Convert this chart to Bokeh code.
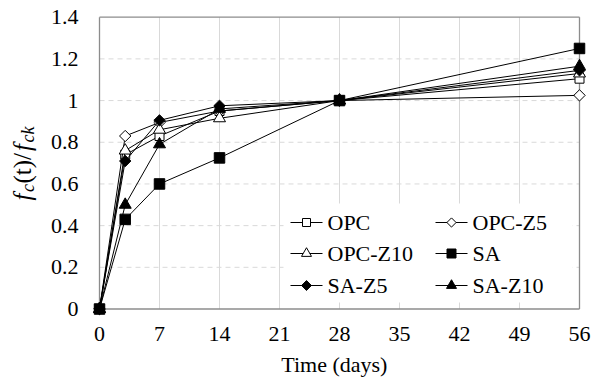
import math
from bokeh.plotting import figure
from bokeh.models import Range1d, Label
from bokeh.embed import file_html
from bokeh.resources import INLINE

# ---- data ----
days = [0, 3, 7, 14, 28, 56]
opc = [0, 0.74, 0.83, 0.95, 1.0, 1.105]
opc_z5 = [0, 0.83, 0.895, 0.95, 1.0, 1.025]
opc_z10 = [0, 0.76, 0.86, 0.915, 1.0, 1.13]
sa = [0, 0.43, 0.60, 0.725, 1.0, 1.25]
sa_z5 = [0, 0.71, 0.905, 0.975, 1.0, 1.145]
sa_z10 = [0, 0.50, 0.79, 0.96, 1.0, 1.165]
series_names = ["OPC", "OPC-Z5", "OPC-Z10", "SA", "SA-Z5", "SA-Z10"]
x_ticks = [0, 7, 14, 21, 28, 35, 42, 49, 56]
x_tick_labels = ["0", "7", "14", "21", "28", "35", "42", "49", "56"]
y_ticks = [0, 0.2, 0.4, 0.6, 0.8, 1.0, 1.2, 1.4]
y_tick_labels = ["0", "0.2", "0.4", "0.6", "0.8", "1", "1.2", "1.4"]
x_title = "Time (days)"

FONT = "Liberation Serif"
W, H = 594, 378
# pixel layout of the plot area (page pixels)
PX_L, PX_R, PX_T, PX_B = 99.0, 579.0, 16.7, 308.5
x0, x1 = x_ticks[0], x_ticks[-1]
y0, y1 = y_ticks[0], y_ticks[-1]
kx = (PX_R - PX_L) / (x1 - x0)
ky = (PX_B - PX_T) / (y1 - y0)
xs, xe = x0 - PX_L / kx, x1 + (W - PX_R) / kx
ys, ye = y0 - (H - PX_B) / ky, y1 + PX_T / ky


def px_x(px):
    return xs + px / kx


def px_y(py):
    return ye - py / ky


p = figure(width=W, height=H, output_backend="svg", toolbar_location=None,
           x_range=Range1d(xs, xe), y_range=Range1d(ys, ye),
           min_border=0, min_border_left=0, min_border_right=0,
           min_border_top=0, min_border_bottom=0)
p.axis.visible = False
p.grid.visible = False
p.outline_line_color = None
p.background_fill_color = "white"

# grid lines
nx, ny = len(x_ticks), len(y_ticks)
p.segment(x0=x_ticks[1:], y0=[y0] * (nx - 1), x1=x_ticks[1:], y1=[y1] * (nx - 1),
          line_color="#d9d9d9", line_width=1)
p.segment(x0=[x0] * (ny - 2), y0=y_ticks[1:-1], x1=[x1] * (ny - 2), y1=y_ticks[1:-1],
          line_color="#d9d9d9", line_width=1, line_dash="5 4")
# plot-area box / axis lines
p.segment(x0=[x0, x0, x0, x1], y0=[y0, y1, y0, y0], x1=[x1, x1, x0, x1], y1=[y0, y1, y1, y1],
          line_color="#8c8c8c", line_width=1.3)

# tick labels
p.text(x=[x0] * ny, y=y_ticks, text=y_tick_labels, x_offset=-21, y_offset=0,
       text_align="right", text_baseline="middle", text_font={"value": FONT},
       text_font_size="22px", text_color="black")
p.text(x=x_ticks, y=[y0] * nx, text=x_tick_labels, y_offset=25,
       text_align="center", text_baseline="middle", text_font={"value": FONT},
       text_font_size="22px", text_color="black")

# series
styles = [
    dict(marker="square", size=9, lsize=8, fill="white", angle=0.0),
    dict(marker="square", size=8, lsize=6.5, fill="white", angle=math.pi / 4),
    dict(marker="triangle", size=12, lsize=10, fill="white", angle=0.0),
    dict(marker="square", size=10.5, lsize=9, fill="black", angle=0.0),
    dict(marker="square", size=8, lsize=7, fill="black", angle=math.pi / 4),
    dict(marker="triangle", size=12, lsize=10, fill="black", angle=0.0),
]
all_vals = [opc, opc_z5, opc_z10, sa, sa_z5, sa_z10]
for vals, st in zip(all_vals, styles):
    p.line(days, vals, line_color="black", line_width=1)
    p.scatter(days, vals, marker=st["marker"], size=st["size"], angle=st["angle"],
              fill_color=st["fill"], line_color="black", line_width=1)

# legend (2 columns x 3 rows)
LEG_L, LEG_T, LEG_R, LEG_B = 283, 203, 572, 302
p.quad(left=[px_x(LEG_L)], right=[px_x(LEG_R)], top=[px_y(LEG_T)], bottom=[px_y(LEG_B)],
       fill_color="white", line_color=None)
col_px = [290, 435]
row_px = [222, 253, 285]
GW = 32
for i, (name, st) in enumerate(zip(series_names, styles)):
    gx = col_px[i % 2]
    gy = row_px[i // 2]
    p.segment(x0=[px_x(gx)], y0=[px_y(gy)], x1=[px_x(gx + GW)], y1=[px_y(gy)],
              line_color="black", line_width=1)
    p.scatter([px_x(gx + GW / 2)], [px_y(gy)], marker=st["marker"], size=st["lsize"],
              angle=st["angle"], fill_color=st["fill"], line_color="black", line_width=1)
    p.text(x=[px_x(gx + GW + 5)], y=[px_y(gy)], text=[name],
           text_align="left", text_baseline="middle", text_font={"value": FONT},
           text_font_size="22px", text_color="black")

# x axis title
p.add_layout(Label(x=(x0 + x1) / 2 - 0.6, y=px_y(364), text=x_title,
                   text_font=FONT, text_font_size="22px", text_align="center",
                   text_baseline="middle", text_color="black"))

# y axis title f_c(t)/f_ck, rotated (reads bottom to top)
BASE_X, START_Y = 22, 200
parts = [("f", 0, "25px", "italic", 0), ("c", 8.5, "18px", "italic", 5),
         ("(t)/", 17, "25px", "normal", 0), ("f", 49.5, "25px", "italic", 0),
         ("ck", 58, "18px", "italic", 5)]
for txt, off, fs, style, sub in parts:
    p.add_layout(Label(x=px_x(BASE_X + sub), y=px_y(START_Y - off), text=txt,
                       angle=math.pi / 2, text_font=FONT, text_font_size=fs,
                       text_font_style=style, text_align="left", text_baseline="middle",
                       text_color="black"))

open("out.html", "w").write(file_html(p, INLINE))
